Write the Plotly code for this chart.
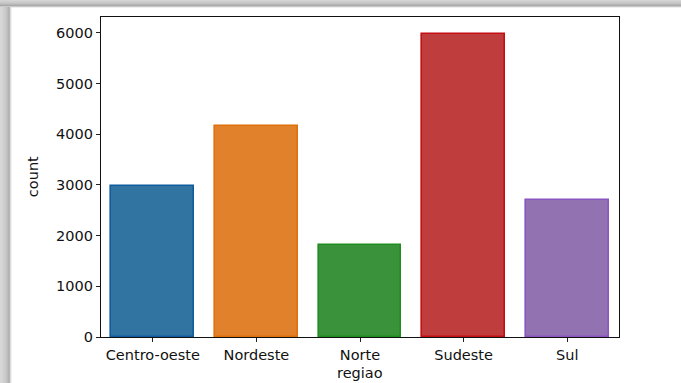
import plotly.graph_objects as go

# Record counts per region
regioes = ["Centro-oeste", "Nordeste", "Norte", "Sudeste", "Sul"]
contagens = [2980, 4160, 1815, 5980, 2710]

cores = ["#3274a1", "#e1812c", "#3a923a", "#c03d3e", "#9372b2"]
bordas = ["#0f5c9e", "#e0700a", "#1e8c1e", "#c40e12", "#8a55c0"]

fig = go.Figure(
    go.Bar(
        x=list(range(len(regioes))),
        y=contagens,
        width=0.8,
        marker=dict(color=cores, line=dict(color=bordas, width=1.6)),
        hoverinfo="skip",
    )
)

font = dict(family="DejaVu Sans", size=14.5, color="#111111")

fig.update_xaxes(
    range=[-0.5, 4.5],
    tickmode="array",
    tickvals=list(range(len(regioes))),
    ticktext=regioes,
    ticks="outside",
    ticklen=4,
    tickcolor="#222",
    showline=True,
    linecolor="#111",
    linewidth=1.3,
    mirror=True,
    showgrid=False,
    zeroline=False,
    automargin=False,
    tickfont=font,
)
fig.update_yaxes(
    range=[0, 6310],
    tickvals=[0, 1000, 2000, 3000, 4000, 5000, 6000],
    ticks="outside",
    ticklen=4,
    tickcolor="#222",
    showline=True,
    linecolor="#111",
    linewidth=1.3,
    mirror=True,
    showgrid=False,
    zeroline=False,
    automargin=False,
    tickfont=font,
)

# axis titles
annotations = [
    dict(text="regiao", xref="paper", yref="paper", x=0.5, y=-0.1125,
         xanchor="center", yanchor="middle", showarrow=False, font=font),
    dict(text="count", xref="paper", yref="paper", x=-0.131, y=0.5,
         xanchor="center", yanchor="middle", textangle=-90, showarrow=False, font=font),
]

# soft grey frame along the top and left edges
shapes = []
ppy = 1 / 320
tops = ["#d4d4d4", "#cfcfcf", "#c9c9c9", "#c2c2c2", "#b6b6b6", "#aaaaaa", "#c8c8c8", "#eeeeee"]
for i, c in enumerate(tops):
    shapes.append(dict(type="rect", xref="paper", yref="paper",
                       x0=-0.3, x1=1.3, y0=(17 - i - 1) * ppy + 1, y1=(17 - i) * ppy + 1,
                       line=dict(width=0), fillcolor=c, layer="below"))
lefts = ["#d8d8d8", "#d6d6d6", "#d3d3d3", "#d0d0d0", "#cdcdcd", "#c9c9c9",
         "#c4c4c4", "#bcbcbc", "#b2b2b2", "#b8b8b8", "#dadada", "#f2f2f2"]
px = 1 / 518
for i, c in enumerate(lefts):
    shapes.append(dict(type="rect", xref="paper", yref="paper",
                       x0=(-101 + i) * px, x1=(-100 + i) * px, y0=-0.3, y1=(17 - 7) * ppy + 1,
                       line=dict(width=0), fillcolor=c, layer="below"))

fig.update_layout(
    width=681,
    height=383,
    margin=dict(l=101, r=62, t=17, b=46),
    paper_bgcolor="white",
    plot_bgcolor="white",
    showlegend=False,
    shapes=shapes,
    annotations=annotations,
    bargap=0,
)

fig.write_html("out.html")
